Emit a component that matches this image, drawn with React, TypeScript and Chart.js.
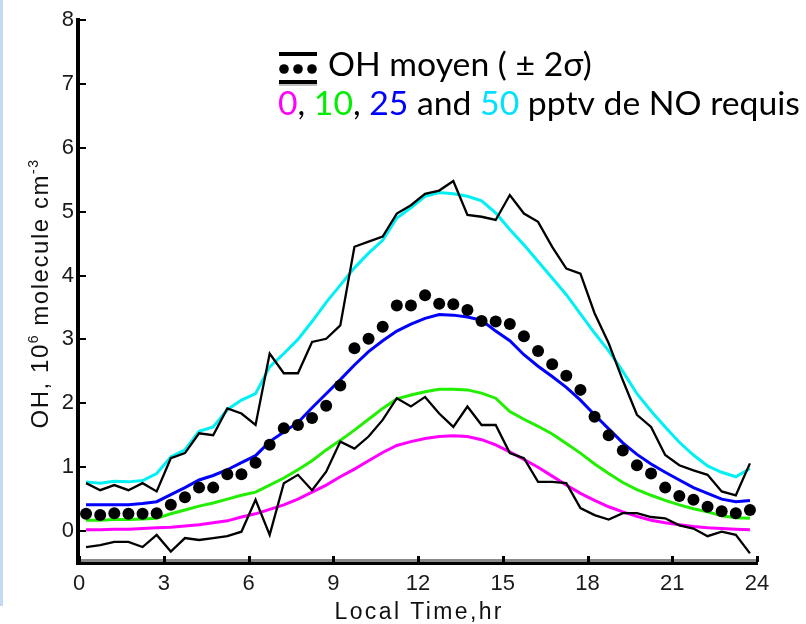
import React, { useEffect, useRef } from 'react';
import { Chart, registerables } from 'chart.js';

Chart.register(...registerables);

// ---- data ----
const HOURS = [
  0.25, 0.75, 1.25, 1.75, 2.25, 2.75, 3.25, 3.75, 4.25, 4.75, 5.25, 5.75,
  6.25, 6.75, 7.25, 7.75, 8.25, 8.75, 9.25, 9.75, 10.25, 10.75, 11.25, 11.75,
  12.25, 12.75, 13.25, 13.75, 14.25, 14.75, 15.25, 15.75, 16.25, 16.75, 17.25, 17.75,
  18.25, 18.75, 19.25, 19.75, 20.25, 20.75, 21.25, 21.75, 22.25, 22.75, 23.25, 23.75,
];

const OH_MEAN = [
  0.27, 0.25, 0.28, 0.27, 0.27, 0.28, 0.41, 0.53, 0.68, 0.68, 0.89, 0.89,
  1.07, 1.35, 1.61, 1.66, 1.77, 1.96, 2.28, 2.86, 3.01, 3.2, 3.53, 3.53,
  3.69, 3.56, 3.55, 3.46, 3.29, 3.28, 3.24, 3.05, 2.82, 2.61, 2.43, 2.21,
  1.79, 1.5, 1.26, 1.03, 0.9, 0.68, 0.55, 0.49, 0.38, 0.31, 0.28, 0.33,
];

const OH_UPPER = [
  0.75, 0.64, 0.72, 0.64, 0.75, 0.62, 1.14, 1.22, 1.53, 1.5, 1.92, 1.84,
  1.66, 2.78, 2.47, 2.47, 2.96, 3.01, 3.22, 4.45, 4.53, 4.61, 4.97, 5.1,
  5.28, 5.33, 5.48, 4.95, 4.92, 4.87, 5.26, 4.97, 4.84, 4.45, 4.11, 4.03,
  3.41, 2.94, 2.36, 1.82, 1.63, 1.19, 1.03, 0.95, 0.88, 0.62, 0.56, 1.06,
];

const OH_LOWER = [
  -0.25, -0.22, -0.17, -0.17, -0.25, -0.06, -0.32, -0.11, -0.14, -0.11, -0.08, -0.01,
  0.49, -0.06, 0.75, 0.88, 0.64, 0.93, 1.4, 1.29, 1.48, 1.74, 2.08, 1.95,
  2.1, 1.84, 1.63, 1.95, 1.66, 1.66, 1.22, 1.14, 0.77, 0.77, 0.75, 0.36,
  0.25, 0.18, 0.28, 0.28, 0.22, 0.2, 0.09, 0.04, -0.08, -0.01, -0.06, -0.35,
];

const NO_50 = [
  0.77, 0.75, 0.78, 0.77, 0.79, 0.9, 1.16, 1.27, 1.56, 1.63, 1.9, 2.05,
  2.15, 2.57, 2.78, 3.0, 3.28, 3.58, 3.85, 4.12, 4.35, 4.55, 4.9, 5.06,
  5.24, 5.3, 5.28, 5.24, 5.17, 4.98, 4.72, 4.48, 4.22, 3.96, 3.7, 3.4,
  3.1, 2.82, 2.5, 2.15, 1.88, 1.63, 1.39, 1.19, 1.02, 0.92, 0.85, 0.98,
];

const NO_25 = [
  0.41, 0.41, 0.41, 0.41, 0.43, 0.46, 0.57, 0.68, 0.8, 0.87, 0.96, 1.07,
  1.18, 1.4, 1.55, 1.7, 1.93, 2.15, 2.37, 2.6, 2.81, 2.98, 3.13, 3.24,
  3.33, 3.39, 3.38, 3.35, 3.3, 3.13, 2.98, 2.76, 2.58, 2.42, 2.25, 2.05,
  1.82, 1.6, 1.38, 1.2, 1.05, 0.92, 0.8, 0.68, 0.59, 0.5, 0.46, 0.48,
];

const NO_10 = [
  0.17, 0.17, 0.18, 0.18, 0.19, 0.2, 0.27, 0.33, 0.39, 0.44, 0.5, 0.56,
  0.61, 0.72, 0.83, 0.96, 1.1, 1.27, 1.42, 1.58, 1.75, 1.92, 2.07, 2.13,
  2.18, 2.22, 2.22, 2.21, 2.16, 2.08, 1.87, 1.75, 1.64, 1.52, 1.37, 1.22,
  1.05, 0.9, 0.76, 0.65, 0.56, 0.48, 0.41, 0.35, 0.3, 0.24, 0.21, 0.2,
];

const NO_0 = [
  0.02, 0.02, 0.03, 0.03, 0.04, 0.05, 0.06, 0.08, 0.1, 0.13, 0.16, 0.22,
  0.27, 0.34, 0.41, 0.5, 0.61, 0.72, 0.85, 0.97, 1.1, 1.23, 1.34, 1.4,
  1.45, 1.48, 1.49, 1.48, 1.43, 1.35, 1.24, 1.12, 1.0, 0.86, 0.72, 0.59,
  0.48, 0.38, 0.3, 0.23, 0.17, 0.13, 0.1, 0.07, 0.05, 0.04, 0.03, 0.02,
];

const X_TICKS = [0, 3, 6, 9, 12, 15, 18, 21, 24];
const Y_TICKS = [0, 1, 2, 3, 4, 5, 6, 7, 8];

const X_TITLE = 'Local Time,hr';
const Y_TITLE_PARTS: [string, boolean][] = [
  ['OH, 10', false],
  ['6', true],
  [' molecule cm', false],
  ['-3', true],
];
const LEGEND_LINE1 = 'OH moyen ( \u00b1 2\u03c3)';
const LEGEND_LINE2: [string, string][] = [
  ['0', '#ff00ff'],
  [', ', '#000000'],
  ['10', '#00ee00'],
  [', ', '#000000'],
  ['25', '#0000ff'],
  [' and ', '#000000'],
  ['50', '#00e0ff'],
  [' pptv de NO requis', '#000000'],
];

const COLORS = {
  c50: '#00f0f4',
  c25: '#0000ff',
  c10: '#22ee00',
  c0: '#ff00ff',
};

const pts = (ys: number[]) => HOURS.map((h, i) => ({ x: h, y: ys[i] }));

const TICK_FONT = '"Liberation Sans", Arial, sans-serif';

const overlay = {
  id: 'overlay',
  beforeDraw(chart: any) {
    const ctx = chart.ctx as CanvasRenderingContext2D;
    ctx.save();
    ctx.fillStyle = '#ffffff';
    ctx.fillRect(0, 0, chart.width, chart.height);
    ctx.fillStyle = '#c5d9f1';
    ctx.fillRect(0, 0, 3, 606);
    ctx.restore();
  },
  afterDraw(chart: any) {
    const ctx = chart.ctx as CanvasRenderingContext2D;
    const xs = chart.scales.x;
    const ys = chart.scales.y;
    const left = xs.getPixelForValue(0);
    const right = xs.getPixelForValue(24);
    const bottom = ys.bottom;
    const top = ys.getPixelForValue(8);
    ctx.save();
    // axes
    ctx.fillStyle = '#8a8a8a';
    ctx.fillRect(left, bottom - 4, right - left, 3);
    ctx.fillStyle = '#000';
    ctx.fillRect(left - 3, bottom - 1, right - left + 4, 3);
    ctx.fillRect(left - 3, top - 2, 4, bottom + 2 - (top - 2));
    // inward ticks
    Y_TICKS.forEach((v) => {
      const py = Math.round(ys.getPixelForValue(v));
      ctx.fillRect(left, py - 1, 7, 2);
    });
    X_TICKS.forEach((v) => {
      const px = Math.round(xs.getPixelForValue(v));
      ctx.fillRect(px - 1, bottom - 7, 3, 6);
    });

    // x title
    ctx.fillStyle = '#111';
    ctx.font = `23px ${TICK_FONT}`;
    (ctx as any).letterSpacing = '0px';
    const wx = ctx.measureText(X_TITLE).width;
    const targetX = 167;
    const lsx = Math.max(0, (targetX - wx) / (X_TITLE.length - 1));
    (ctx as any).letterSpacing = `${lsx}px`;
    ctx.textAlign = 'center';
    ctx.textBaseline = 'alphabetic';
    ctx.fillText(X_TITLE, (left + right) / 2 + lsx / 2, 619);

    // y title (rotated, with superscripts)
    const mainFont = `24px ${TICK_FONT}`;
    const supFont = `14px ${TICK_FONT}`;
    (ctx as any).letterSpacing = '0px';
    let raw = 0;
    let n = 0;
    Y_TITLE_PARTS.forEach(([t, sup]) => {
      ctx.font = sup ? supFont : mainFont;
      raw += ctx.measureText(t).width;
      n += t.length;
    });
    const targetY = 270;
    const lsy = Math.max(0, (targetY - raw) / n);
    (ctx as any).letterSpacing = `${lsy}px`;
    ctx.translate(48, (top + bottom) / 2 + 2);
    ctx.rotate(-Math.PI / 2);
    ctx.textAlign = 'left';
    let cx = -targetY / 2;
    Y_TITLE_PARTS.forEach(([t, sup]) => {
      ctx.font = sup ? supFont : mainFont;
      ctx.fillText(t, cx, sup ? -10 : 0);
      cx += ctx.measureText(t).width;
    });
    ctx.setTransform(1, 0, 0, 1, 0, 0);
    (ctx as any).letterSpacing = '0px';

    // legend
    const fam = 'Lato, "Open Sans", sans-serif';
    ctx.font = `100px ${fam}`;
    const full = LEGEND_LINE2.map((p) => p[0]).join('');
    const w100 = ctx.measureText(full).width;
    const fs = (100 * 522) / w100;
    ctx.font = `${fs}px ${fam}`;
    ctx.textAlign = 'left';
    ctx.textBaseline = 'alphabetic';
    ctx.fillStyle = '#000';
    ctx.fillText(LEGEND_LINE1, 328, 76);
    let lx = 278;
    LEGEND_LINE2.forEach(([t, c]) => {
      ctx.fillStyle = c;
      ctx.fillText(t, lx, 115);
      lx += ctx.measureText(t).width;
    });
    // legend icon
    ctx.fillStyle = '#000';
    ctx.fillRect(279, 52, 38, 4);
    ctx.fillStyle = 'rgba(0,0,0,0.25)';
    ctx.fillRect(279, 84, 38, 2);
    ctx.fillStyle = '#000';
    ctx.fillRect(279, 80, 38, 4);
    [284, 298, 312].forEach((dx) => {
      ctx.beginPath();
      ctx.arc(dx, 69, 4.8, 0, Math.PI * 2);
      ctx.fill();
    });
    ctx.restore();
  },
};

export default function App() {
  const ref = useRef<HTMLCanvasElement>(null);
  useEffect(() => {
    document.body.style.margin = '0';
    const line = (data: number[], color: string, width: number) => ({
      data: pts(data),
      borderColor: color,
      backgroundColor: color,
      borderWidth: width,
      pointRadius: 0,
      tension: 0,
      fill: false,
    });
    const chart = new Chart(ref.current as HTMLCanvasElement, {
      type: 'line',
      data: {
        datasets: [
          {
            data: pts(OH_MEAN),
            showLine: false,
            pointRadius: 6,
            pointBackgroundColor: '#000',
            pointBorderColor: '#000',
            pointBorderWidth: 0,
            borderColor: '#000',
            backgroundColor: '#000',
          } as any,
          line(OH_UPPER, '#000', 2.3),
          line(OH_LOWER, '#000', 2.3),
          line(NO_50, COLORS.c50, 3),
          line(NO_25, COLORS.c25, 3),
          line(NO_10, COLORS.c10, 3),
          line(NO_0, COLORS.c0, 3),
        ],
      },
      options: {
        responsive: false,
        animation: false,
        devicePixelRatio: 1,
        layout: { padding: { left: 0, top: 20, right: 49, bottom: 0 } },
        plugins: { legend: { display: false }, tooltip: { enabled: false } },
        events: [],
        scales: {
          x: {
            type: 'linear',
            min: 0,
            max: 24,
            grid: { display: false, drawTicks: false },
            border: { display: false },
            ticks: {
              stepSize: 3,
              padding: 8,
              color: '#1a1a1a',
              font: { family: TICK_FONT, size: 22 },
              maxRotation: 0,
            },
            afterFit: (s: any) => {
              s.height = 61;
            },
          },
          y: {
            type: 'linear',
            min: -0.5,
            max: 8,
            grid: { display: false, drawTicks: false },
            border: { display: false },
            ticks: {
              stepSize: 1,
              padding: 5,
              color: '#1a1a1a',
              font: { family: TICK_FONT, size: 22 },
            },
            afterBuildTicks: (s: any) => {
              s.ticks = Y_TICKS.map((v) => ({ value: v }));
            },
            afterFit: (s: any) => {
              s.width = 79;
            },
          },
        },
      },
      plugins: [overlay],
    } as any);
    return () => chart.destroy();
  }, []);
  return (
    <div style={{ position: 'absolute', left: 0, top: 0, width: 806, height: 624 }}>
      <canvas ref={ref} width={806} height={624} style={{ display: 'block' }} />
    </div>
  );
}
